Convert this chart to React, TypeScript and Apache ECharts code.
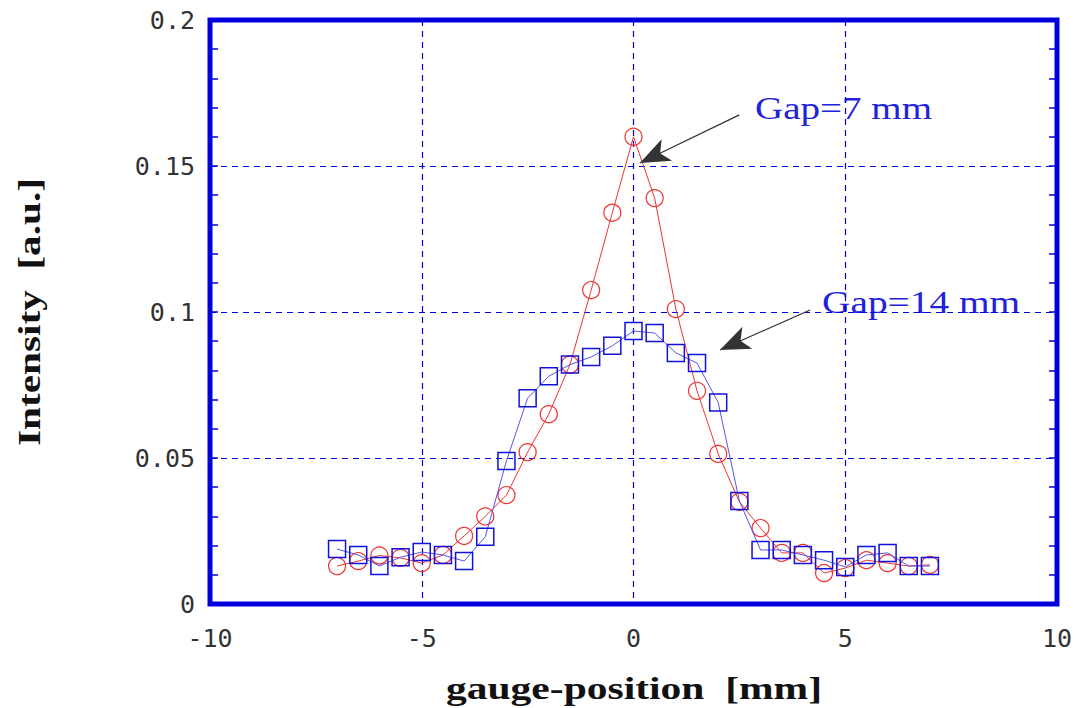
import React, { useEffect, useRef } from "react";
import * as echarts from "echarts";

const positions = [-7, -6.5, -6, -5.5, -5, -4.5, -4, -3.5, -3, -2.5, -2, -1.5, -1, -0.5, 0, 0.5, 1, 1.5, 2, 2.5, 3, 3.5, 4, 4.5, 5, 5.5, 6, 6.5, 7];
const gap7 = [0.013, 0.0147, 0.0166, 0.0158, 0.014, 0.0168, 0.0233, 0.030, 0.0373, 0.052, 0.065, 0.082, 0.1075, 0.134, 0.160, 0.139, 0.101, 0.073, 0.0514, 0.035, 0.026, 0.0175, 0.0175, 0.0106, 0.0123, 0.015, 0.014, 0.013, 0.0134];
const gap14 = [0.0188, 0.0168, 0.013, 0.016, 0.0178, 0.0168, 0.0147, 0.023, 0.049, 0.0705, 0.078, 0.082, 0.0846, 0.0884, 0.0935, 0.0928, 0.086, 0.0825, 0.069, 0.0353, 0.0185, 0.0185, 0.0168, 0.015, 0.0127, 0.0168, 0.0175, 0.013, 0.013];
const xTicks = { min: -10, max: 10, interval: 5 };
const yTicks = { min: 0, max: 0.2, interval: 0.05 };
const arrow7 = [[2.5, 0.1675], [0.15, 0.151]];
const arrow14 = [[4.17, 0.1007], [2.04, 0.087]];
const labels = ["Gap=7 mm", "Gap=14 mm"];
const xTitle = "gauge-position  [mm]";
const yTitle = "Intensity  [a.u.]";

const BLUE = "#0000dd";

export default function App() {
  const ref = useRef<HTMLDivElement>(null);
  useEffect(() => {
    const chart = echarts.init(ref.current!, null, { renderer: "svg" });
    const monoLabel = { fontFamily: "DejaVu Sans Mono", fontSize: 25, color: "#333" };
    const grid = { left: 210, right: 19, top: 20, bottom: 104, show: true, borderColor: BLUE, borderWidth: 5, backgroundColor: "#fff" };
    const splitLine = { show: true, lineStyle: { color: BLUE, type: [6, 5], width: 1.2 } };
    const yBase = {
      type: "value",
      min: yTicks.min,
      max: yTicks.max,
      interval: yTicks.interval,
      axisLine: { show: false, onZero: false },
      axisTick: { show: true, inside: true, length: 8, lineStyle: { color: BLUE, width: 1.5 } },
      minorTick: { show: true, splitNumber: 5, length: 8, lineStyle: { color: BLUE, width: 1.5 } },
    };
    const arrowLine = (pts: number[][]) => [{ coord: pts[0] }, { coord: pts[1] }];
    const titleFont = "bold 31px 'Liberation Serif'";
    chart.setOption({
      animation: false,
      backgroundColor: "#fff",
      grid,
      xAxis: {
        type: "value",
        min: xTicks.min,
        max: xTicks.max,
        interval: xTicks.interval,
        axisLine: { show: false, onZero: false },
        axisTick: { show: false },
        splitLine,
        axisLabel: { ...monoLabel, margin: 22 },
      },
      yAxis: [
        {
          ...yBase,
          position: "left",
          splitLine,
          axisLabel: { ...monoLabel, margin: 15 },
        },
        {
          ...yBase,
          position: "right",
          splitLine: { show: false },
          axisLabel: { show: false },
        },
      ],
      series: [
        {
          type: "line",
          name: labels[0],
          data: positions.map((x, i) => [x, gap7[i]]),
          symbol: "circle",
          symbolSize: 17,
          lineStyle: { color: "#ee3333", width: 1 },
          itemStyle: { color: "rgba(255,255,255,0)", borderColor: "#ee3333", borderWidth: 1.2 },
          z: 3,
          markLine: {
            silent: true,
            symbol: ["none", "arrow"],
            symbolSize: [18, 30],
            label: { show: false },
            lineStyle: { color: "#333", width: 1.2, type: "solid" },
            data: [arrowLine(arrow7), arrowLine(arrow14)],
          },
        },
        {
          type: "line",
          name: labels[1],
          data: positions.map((x, i) => [x, gap14[i]]),
          symbol: "rect",
          symbolSize: 17,
          lineStyle: { color: "#5555ee", width: 1 },
          itemStyle: { color: "rgba(255,255,255,0)", borderColor: "#1111dd", borderWidth: 1.5 },
          z: 4,
        },
      ],
      graphic: [
        { type: "text", x: 755, y: 108, scaleX: 1.22, style: { text: labels[0], font: "32px 'Liberation Serif'", fill: "#2222dd", textVerticalAlign: "middle" } },
        { type: "text", x: 822, y: 302, scaleX: 1.23, style: { text: labels[1], font: "32px 'Liberation Serif'", fill: "#2222dd", textVerticalAlign: "middle" } },
        { type: "text", x: 634, y: 688, scaleX: 1.34, style: { text: xTitle, font: titleFont, fill: "#111", textAlign: "center", textVerticalAlign: "middle" } },
        { type: "text", x: 30, y: 312, rotation: Math.PI / 2, scaleX: 1.33, style: { text: yTitle, font: titleFont, fill: "#111", textAlign: "center", textVerticalAlign: "middle" } },
      ],
    });
    return () => chart.dispose();
  }, []);
  return <div ref={ref} style={{ width: 1076, height: 708, position: "absolute", left: 0, top: 0 }} />;
}
